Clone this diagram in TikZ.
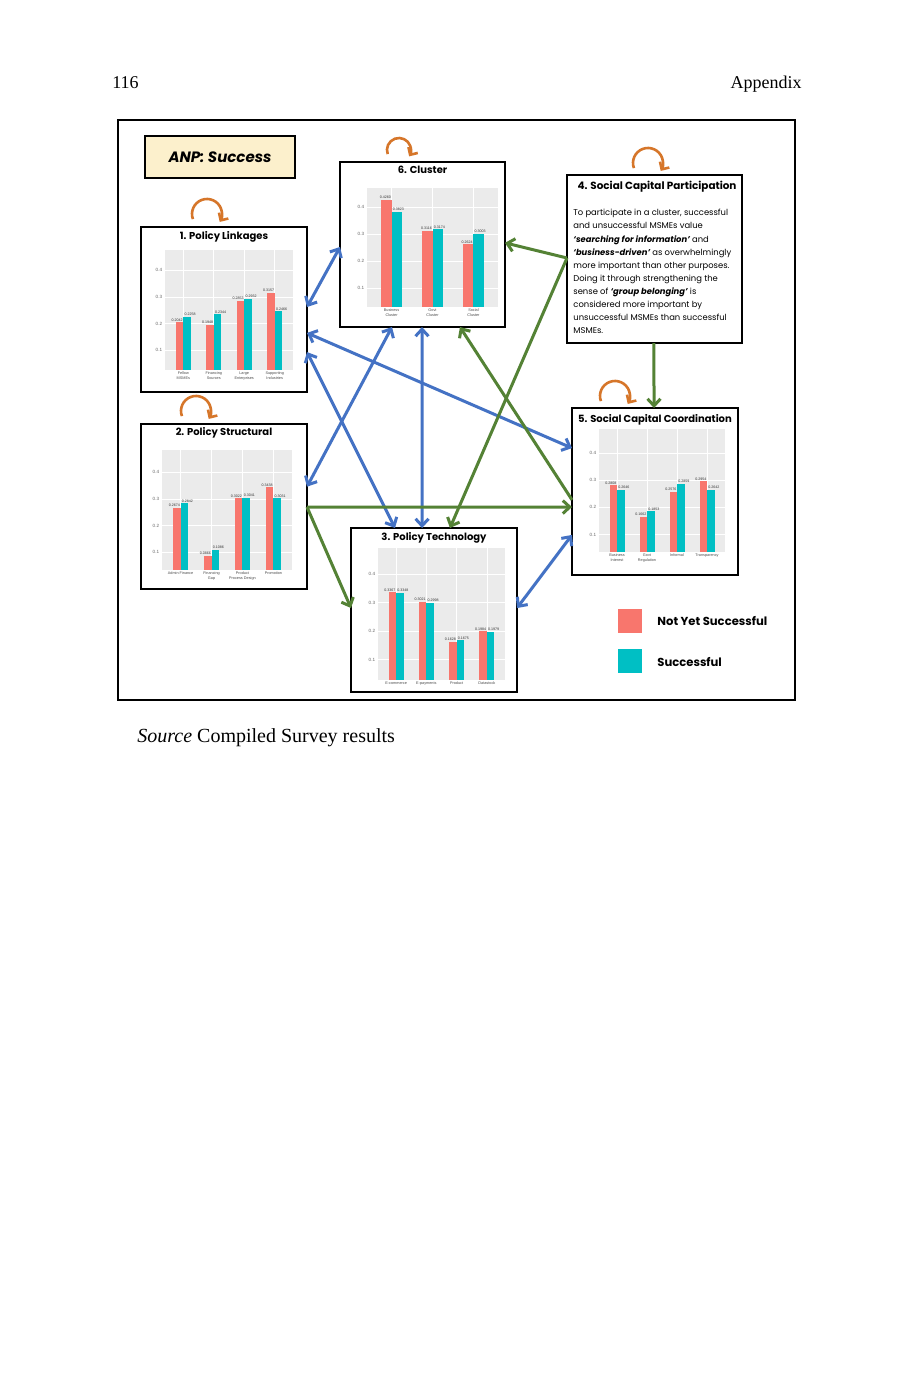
\documentclass[tikz,border=0pt]{standalone}
\usepackage{fontspec}
\setmainfont{Liberation Serif}
\newfontfamily\gf{Poppins}
\newfontfamily\chf{Liberation Sans}
\usetikzlibrary{arrows.meta,calc}
\definecolor{barred}{HTML}{F8766D}
\definecolor{barteal}{HTML}{00BFC4}
\definecolor{panelgray}{HTML}{EBEBEB}
\definecolor{bluec}{HTML}{4472C4}
\definecolor{greenc}{HTML}{548235}
\definecolor{orangec}{RGB}{214,118,42}
\definecolor{anpfill}{HTML}{FCF0CC}

\newcommand\mychart[8]{%
  \fill[panelgray] (#1,#2) rectangle (#3,#4);
  \pgfmathsetmacro\uu{(#3-#1)/(#7+0.2)}%
  \pgfmathsetmacro\ww{0.25*\uu}%
  \foreach \k in {1,2,3,4}{%
    \pgfmathsetmacro\yk{#5-0.1*\k*#6}%
    \draw[white, line width=0.3pt] (#1,\yk) -- (#3,\yk);
    \node[ticklab] at (#1-1.5,\yk) {0.\k};
  }%
  \foreach \rv/\tv/\lab [count=\i] in {#8}{%
    \pgfmathsetmacro\cx{#1+(\i-0.4)*\uu}%
    \pgfmathsetmacro\ry{#5-\rv*#6}%
    \pgfmathsetmacro\ty{#5-\tv*#6}%
    \draw[white, line width=0.3pt] (\cx,#2) -- (\cx,#4);
    \fill[barred] (\cx-\ww,#4) rectangle (\cx,\ry);
    \fill[barteal] (\cx,#4) rectangle (\cx+\ww,\ty);
    \node[vallab, anchor=south east] at (\cx+0.3,\ry) {\rv};
    \node[vallab, anchor=south west] at (\cx+0.3,\ty) {\tv};
    \node[xlab] at (\cx,#4+1) {\lab};
  }%
}

\begin{document}
\begin{tikzpicture}[x=0.5pt,y=-0.5pt,
  panel/.style={draw=black, line width=1pt, fill=white, inner sep=0pt, outer sep=0pt},
  ptitle/.style={font=\gf\bfseries\fontsize{5}{6}\selectfont, inner sep=0pt},
  ticklab/.style={font=\chf\fontsize{2.3}{2.5}\selectfont, text=black!60, anchor=east, inner sep=0.5pt},
  vallab/.style={font=\chf\fontsize{1.8}{2}\selectfont, text=black!80, inner sep=0.3pt},
  xlab/.style={font=\chf\fontsize{1.9}{2.2}\selectfont, text=black!70, anchor=north, align=center, inner sep=0.3pt},
  biarrow/.style={draw=bluec, line width=1.5pt, {Straight Barb[length=3.5pt,width=6.5pt]}-{Straight Barb[length=3.5pt,width=6.5pt]}},
  garrow/.style={draw=greenc, line width=1.5pt, -{Straight Barb[length=3.5pt,width=6.5pt]}},
  loopc/.style={draw=orangec, line width=1.3pt, -{Straight Barb[length=2.8pt,width=5.5pt]}},
  legsq/.style={minimum width=12pt, minimum height=12pt, inner sep=0pt, outer sep=0pt},
  legtx/.style={font=\gf\bfseries\fontsize{5.8}{7}\selectfont, anchor=west, inner sep=0pt}
]
\useasboundingbox (0,0) rectangle (916,1388);
\fill[white] (0,0) rectangle (916,1388);

% page header and caption
\node[anchor=base west, font=\fontsize{9}{11}\selectfont, inner sep=0pt] (pg) at (112,88) {116};
\node[anchor=base east, font=\fontsize{9}{11}\selectfont, inner sep=0pt] (hd) at (802,88) {Appendix};
\node[anchor=base west, font=\fontsize{10}{12}\selectfont, inner sep=0pt] (cap) at (137,742) {\textit{Source} Compiled Survey results};

% outer frame
\draw[line width=1pt] (118,120) rectangle (795,700);

% ANP label
\node[draw=black, line width=1pt, fill=anpfill, minimum width=75pt, minimum height=21pt, inner sep=0pt,
  font=\gf\bfseries\itshape\fontsize{7.5}{9}\selectfont] (anp) at (220,157) {ANP: Success};

% boxes
\node[panel, minimum width=83pt, minimum height=82.5pt] (pl) at (224,309.5) {};
\node[panel, minimum width=82.5pt, minimum height=82.5pt] (cl) at (422.5,244.5) {};
\node[panel, minimum width=87.5pt, minimum height=84pt] (scp) at (654.5,259) {};
\node[panel, minimum width=83pt, minimum height=82.5pt] (ps) at (224,506.5) {};
\node[panel, minimum width=83pt, minimum height=83.5pt] (scc) at (655,491.5) {};
\node[panel, minimum width=83pt, minimum height=82pt] (pt) at (434,610) {};

% titles
\node[ptitle] (plt) at (224,237) {1. Policy Linkages};
\node[ptitle] (clt) at (422.5,170) {6. Cluster};
\node[ptitle] (pst) at (224,433) {2. Policy Structural};
\node[ptitle] (ptt) at (434,538) {3. Policy Technology};
\node[ptitle] (scct) at (655,420) {5. Social Capital Coordination};
\node[ptitle, font=\gf\bfseries\fontsize{5.2}{6}\selectfont] (scpt) at (657,187) {4. Social Capital Participation};

% SCP text
\node[anchor=north west, align=left, inner sep=0pt, font=\gf\fontsize{4.2}{6.55}\selectfont] (scptx) at (573,209)
{To participate in a cluster, successful\\
and unsuccessful MSMEs value\\
{\bfseries\itshape ‘searching for information’} and\\
{\bfseries\itshape ‘business-driven’} as overwhelmingly\\
more important than other purposes.\\
Doing it through strengthening the\\
sense of {\bfseries\itshape ‘group belonging’} is\\
considered more important by\\
unsuccessful MSMEs than successful\\
MSMEs.};

% charts
\mychart{165}{250}{293}{370}{377}{267}{4}{0.2042/0.2258/{Fellow\\MSMEs}, 0.1948/0.2344/{Financing\\Sources}, 0.2853/0.2932/{Large\\Enterprises}, 0.3157/0.2466/{Supporting\\Industries}}
\mychart{367}{188}{498}{307}{315}{270}{3}{0.4260/0.3823/{Business\\Cluster}, 0.3116/0.3174/{Govt\\Cluster}, 0.2624/0.3003/{Social\\Cluster}}
\mychart{162}{450}{292}{570}{579}{267}{4}{0.2674/0.2842/{Admin Finance}, 0.0866/0.1086/{Financing\\Gap}, 0.3022/0.3041/{Product\\Process Design}, 0.3438/0.3031/{Promotion}}
\mychart{378}{548}{505}{680}{688}{285}{4}{0.3367/0.3348/{E-commerce}, 0.3021/0.2998/{E-payments}, 0.1628/0.1675/{Product}, 0.1984/0.1979/{Datastock}}
\mychart{599}{429}{725}{552}{562}{273}{4}{0.2808/0.2646/{Business\\Interest}, 0.1662/0.1853/{Govt\\Regulation}, 0.2576/0.2859/{Informal}, 0.2954/0.2642/{Transparency}}

% self loops
\draw[loopc] ($(pl.north west)+(51.9,-7.9)$) arc[start angle=160, end angle=392, radius=15];
\draw[loopc] ($(ps.north west)+(40.9,-7.9)$) arc[start angle=160, end angle=392, radius=15];
\draw[loopc] ($(cl.north west)+(47.7,-7.9)$) arc[start angle=160, end angle=392, radius=12];
\draw[loopc] ($(scp.north west)+(66.9,-6.9)$) arc[start angle=160, end angle=392, radius=15];
\draw[loopc] ($(scc.north west)+(28.9,-6.9)$) arc[start angle=160, end angle=392, radius=15];

% blue two-way connectors
\draw[biarrow] ($(pl.north east)!0.485!(pl.south east)$) -- ($(cl.north west)!0.515!(cl.south west)$);
\draw[biarrow] ($(pl.north east)!0.642!(pl.south east)$) -- ($(scc.north west)!0.24!(scc.south west)$);
\draw[biarrow] ($(pl.north east)!0.758!(pl.south east)$) -- ($(pt.north west)!0.265!(pt.north east)$);
\draw[biarrow] ($(ps.north east)!0.38!(ps.south east)$) -- ($(cl.south west)!0.315!(cl.south east)$);
\draw[biarrow] ($(cl.south west)!0.497!(cl.south east)$) -- ($(pt.north west)!0.428!(pt.north east)$);
\draw[biarrow] ($(pt.north east)!0.488!(pt.south east)$) -- ($(scc.north west)!0.76!(scc.south west)$);

% green one-way connectors
\draw[garrow] ($(scp.north west)!0.494!(scp.south west)$) -- ($(cl.north east)!0.49!(cl.south east)$);
\draw[garrow] ($(scp.north west)!0.494!(scp.south west)$) -- ($(pt.north west)!0.596!(pt.north east)$);
\draw[garrow] ($(scc.north west)!0.55!(scc.south west)$) -- ($(cl.south west)!0.727!(cl.south east)$);
\draw[garrow] ($(ps.north east)!0.503!(ps.south east)$) -- ($(scc.north west)!0.593!(scc.south west)$);
\draw[garrow] ($(ps.north east)!0.503!(ps.south east)$) -- ($(pt.north west)!0.488!(pt.south west)$);
\draw[garrow] ($(scp.south west)!0.497!(scp.south east)$) -- ($(scc.north west)!0.494!(scc.north east)$);

% legend
\node[legsq, fill=barred] (lr) at (630,621) {};
\node[legsq, fill=barteal] (lt) at (630,661) {};
\node[legtx] (lrt) at (657,621) {Not Yet Successful};
\node[legtx] (ltt) at (657,662) {Successful};
\end{tikzpicture}
\end{document}
